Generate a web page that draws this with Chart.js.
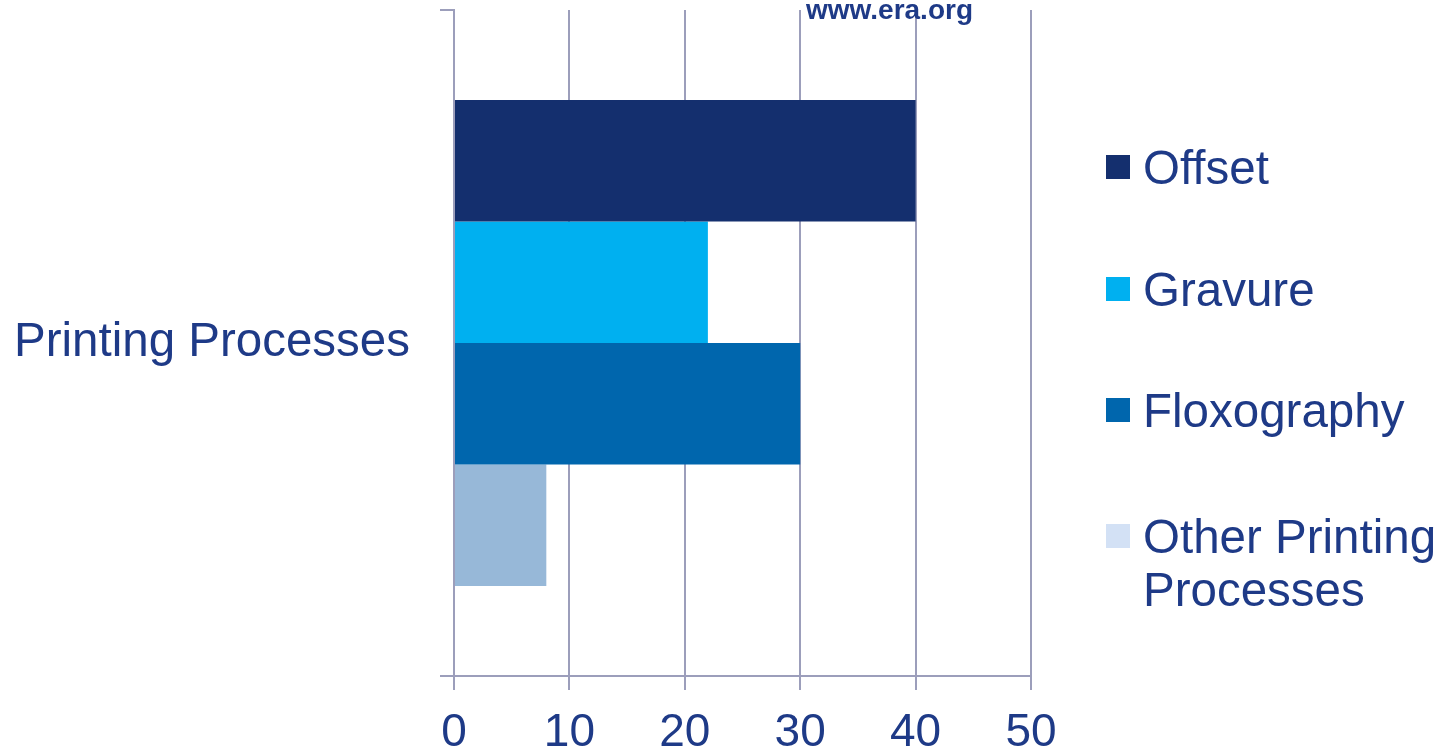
<!DOCTYPE html>
<html>
<head>
<meta charset="utf-8">
<script src="https://cdn.jsdelivr.net/npm/chart.js@4.4.0/dist/chart.umd.min.js"></script>
<style>
  body { margin: 0; background: #fff; }
  #wrap { position: relative; width: 1453px; height: 754px; }
  #legend { position: absolute; left: 1106px; top: 0; font-family: "Liberation Sans", Arial, sans-serif; font-size: 47.5px; line-height: 53px; color: #1E3A87; }
  .item { position: absolute; left: 0; display: flex; align-items: flex-start; white-space: nowrap; }
  .box { width: 24px; height: 24px; margin-top: 14px; margin-right: 13px; flex: none; }
</style>
</head>
<body>
<div id="wrap">
  <canvas id="myChart"></canvas>
  <div id="legend"></div>
</div>
<script>
const categories = ["Printing Processes"];
const seriesNames = ["Offset", "Gravure", "Floxography", "Other Printing Processes"];
const offset = [40];
const gravure = [22];
const floxography = [30];
const other = [8];
const xTicks = [0, 10, 20, 30, 40, 50];

const barColors = ["#142F6E", "#00B0F0", "#0066AD", "#97B8D8"];
const legendColors = ["#142F6E", "#00B0F0", "#0066AD", "#D3E1F5"];
const textColor = "#1E3A87";
const lineColor = "#9C9EBB";

const ctx = document.getElementById("myChart");

const watermark = {
  id: "watermark",
  afterDraw(chart) {
    const c = chart.ctx;
    c.save();
    c.font = "bold 28px 'Liberation Sans', Arial, sans-serif";
    c.fillStyle = textColor;
    c.textBaseline = "alphabetic";
    c.fillText("www.era.org", 806, 19);
    c.restore();
  },
};

new Chart(ctx, {
  type: "bar",
  data: {
    labels: categories,
    datasets: [
      { label: seriesNames[0], data: offset, backgroundColor: barColors[0] },
      { label: seriesNames[1], data: gravure, backgroundColor: barColors[1] },
      { label: seriesNames[2], data: floxography, backgroundColor: barColors[2] },
      { label: seriesNames[3], data: other, backgroundColor: barColors[3] },
    ],
  },
  options: {
    indexAxis: "y",
    responsive: true,
    maintainAspectRatio: false,
    animation: false,
    layout: { padding: { left: 0, top: 10, right: 422, bottom: 0 } },
    datasets: {
      bar: { categoryPercentage: 0.73, barPercentage: 1 },
    },
    plugins: {
      legend: { display: false },
      tooltip: { enabled: false },
    },
    scales: {
      x: {
        min: 0,
        max: 50,
        afterFit: (s) => {
          s.height = 78;
          s.paddingLeft = 0;
          s.paddingRight = 0;
        },
        afterBuildTicks: (s) => { s.ticks = xTicks.map((v) => ({ value: v })); },
        ticks: {
          color: textColor,
          padding: 16,
          font: { family: "'Liberation Sans', Arial, sans-serif", size: 46 },
        },
        grid: { color: lineColor, lineWidth: 2, tickLength: 14 },
        border: { color: lineColor, width: 2 },
      },
      y: {
        afterFit: (s) => {
          s.width = 454;
          s.paddingTop = 0;
          s.paddingBottom = 0;
        },
        ticks: {
          color: textColor,
          padding: 30,
          font: { family: "'Liberation Sans', Arial, sans-serif", size: 47.5 },
        },
        grid: { offset: true, drawOnChartArea: false, color: lineColor, lineWidth: 2, tickLength: 14 },
        border: { color: lineColor, width: 2 },
      },
    },
  },
  plugins: [watermark],
});

// legend on the right, built from the series names
const legendTops = [141, 263, 384, 510];
const legend = document.getElementById("legend");
seriesNames.forEach((name, i) => {
  const item = document.createElement("div");
  item.className = "item";
  item.style.top = legendTops[i] + "px";
  const box = document.createElement("span");
  box.className = "box";
  box.style.background = legendColors[i];
  const txt = document.createElement("span");
  txt.innerHTML = name === "Other Printing Processes" ? "Other Printing<br>Processes" : name;
  item.appendChild(box);
  item.appendChild(txt);
  legend.appendChild(item);
});
</script>
</body>
</html>
